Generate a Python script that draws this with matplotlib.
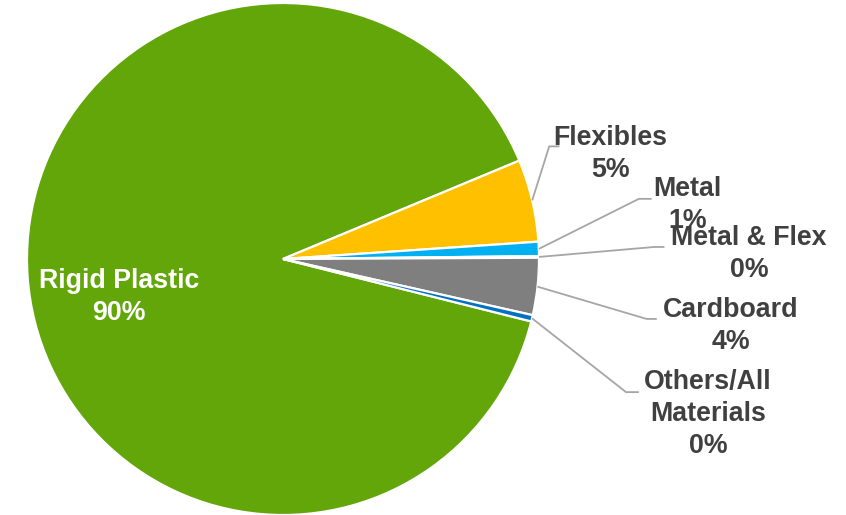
import numpy as np
import matplotlib
matplotlib.use("Agg")
import matplotlib.pyplot as plt

# Packaging material share (%)
categories = ["Rigid Plastic", "Flexibles", "Metal", "Metal & Flex", "Cardboard", "Others/All\nMaterials"]
shares = [89.8, 5.2, 0.9, 0.1, 3.6, 0.4]
colors = ["#62A60A", "#FFC000", "#00B0F0", "#ED7D31", "#7F7F7F", "#0070C0"]

# Label anchor (text centre) and leader-line elbow for each outside label, in data units
label_xy = {
    "Flexibles": (1.28, 0.41),
    "Metal": (1.58, 0.21),
    "Metal & Flex": (1.82, 0.02),
    "Cardboard": (1.75, -0.26),
    "Others/All\nMaterials": (1.66, -0.605),
}
elbow_xy = {
    "Flexibles": [(1.04, 0.44), (1.08, 0.44)],
    "Metal": [(1.39, 0.235), (1.44, 0.235)],
    "Metal & Flex": [(1.45, 0.047), (1.49, 0.047)],
    "Cardboard": [(1.42, -0.234), (1.46, -0.234)],
    "Others/All\nMaterials": [(1.34, -0.52), (1.39, -0.52)],
}

W, H = 846, 515
cx, cy, R = 283, 259, 256  # pie centre and radius in pixels

fig = plt.figure(figsize=(W / 100, H / 100), dpi=100)
ax = fig.add_axes([0, 0, 1, 1])

start = 22.6 + 360 * shares[0] / sum(shares)
wedges, _ = ax.pie(
    shares, colors=colors, startangle=start, counterclock=False,
    radius=1.0, wedgeprops=dict(edgecolor="white", linewidth=1.6),
)

ax.set_xlim(-cx / R, (W - cx) / R)
ax.set_ylim(-(H - cy) / R, cy / R)
ax.set_aspect("auto")
ax.axis("off")

fontkw = dict(family=["Liberation Sans", "DejaVu Sans"], fontsize=19.3, fontweight="bold")
line_color = "#A6A6A6"
text_color = "#404040"

for w, name, val in zip(wedges, categories, shares):
    pct = f"{int(np.floor(val + 0.5))}%"
    if name == "Rigid Plastic":
        ax.text(-0.64, -0.15, f"{name}\n{pct}", color="white", ha="center", va="center",
                linespacing=1.3, zorder=5, **fontkw)
        continue
    mid = np.deg2rad((w.theta1 + w.theta2) / 2)
    x0, y0 = np.cos(mid), np.sin(mid)
    pts = [(x0, y0)] + elbow_xy[name]
    xs, ys = zip(*pts)
    ax.plot(xs, ys, color=line_color, lw=1.3, zorder=3, solid_capstyle="butt")
    lx, ly = label_xy[name]
    ax.text(lx, ly, f"{name}\n{pct}", color=text_color, ha="center", va="center",
            linespacing=1.3, zorder=4, **fontkw)

fig.savefig("out.png", dpi=100)
